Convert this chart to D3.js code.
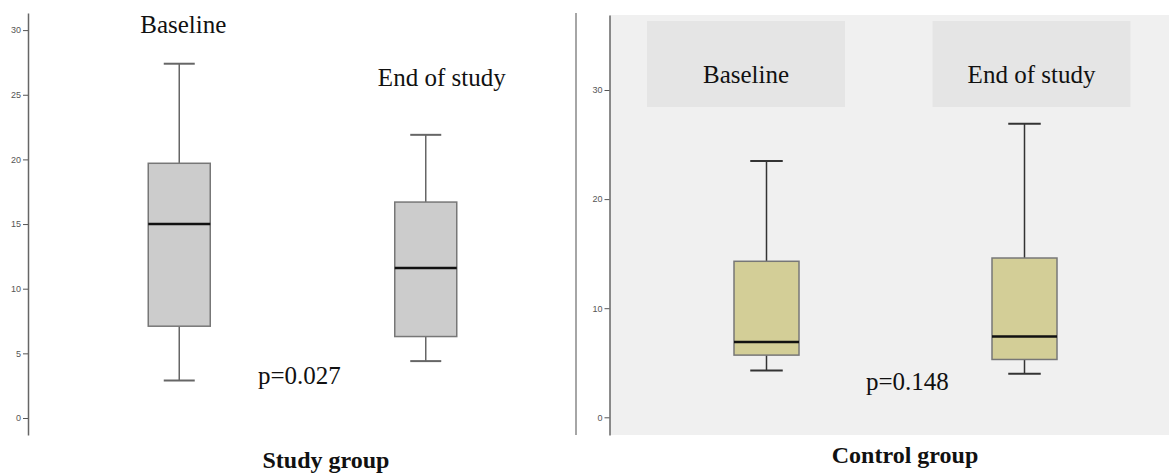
<!DOCTYPE html>
<html>
<head>
<meta charset="utf-8">
<script src="https://cdn.jsdelivr.net/npm/d3@7"></script>
<style>
  body { margin: 0; background: #fff; }
  svg { display: block; }
  .tick text { font-family: "Liberation Sans", Arial, sans-serif; font-size: 9px; fill: #555; }
  .tick line { stroke: #555; }
  .domain { stroke: #666; stroke-width: 1.5; }
  .lbl { font-family: "Liberation Serif", "Times New Roman", serif; font-size: 25px; fill: #111; }
  .ttl { font-family: "Liberation Serif", "Times New Roman", serif; font-size: 24px; font-weight: bold; fill: #111; }
</style>
</head>
<body>
<div id="chart"></div>
<script>
// Categories and box statistics (min, q1, median, q3, max)
const categories = ['Baseline', 'End of study'];
const studyStats = [
  { min: 2.9, q1: 7.1, median: 15.0, q3: 19.7, max: 27.4 },
  { min: 4.4, q1: 6.3, median: 11.6, q3: 16.7, max: 21.9 },
];
const controlStats = [
  { min: 4.3, q1: 5.7, median: 6.9, q3: 14.3, max: 23.5 },
  { min: 4.0, q1: 5.3, median: 7.4, q3: 14.6, max: 26.9 },
];
const studyTicks = [0, 5, 10, 15, 20, 25, 30];
const controlTicks = [0, 10, 20, 30];
const pValues = ['p=0.027', 'p=0.148'];
const groupTitles = ['Study group', 'Control group'];

const width = 1169;
const height = 474;

const svg = d3.select('#chart')
  .append('svg')
  .attr('width', width)
  .attr('height', height);

// Control panel background
svg.append('rect')
  .attr('x', 610).attr('y', 15)
  .attr('width', width - 610).attr('height', 420)
  .attr('fill', '#f0f0f0');

// Separator between the two plots
svg.append('line')
  .attr('x1', 576).attr('x2', 576)
  .attr('y1', 13).attr('y2', 435)
  .attr('stroke', '#888').attr('stroke-width', 1.5);

/**
 * Draw one box plot panel
 */
function drawPanel(opts) {
  const y = d3.scaleLinear().domain(opts.yDomain).range([opts.bottom, opts.top]);
  const x = d3.scaleBand().domain(categories).range(opts.xRange);

  const g = svg.append('g');

  g.append('g')
    .attr('transform', `translate(${opts.axisX},0)`)
    .call(d3.axisLeft(y).tickValues(opts.ticks).tickSize(5).tickSizeOuter(0).tickPadding(2));

  const boxW = opts.boxWidth;
  const capW = boxW / 2;

  const box = g.selectAll('.box')
    .data(opts.stats)
    .enter().append('g')
    .attr('class', 'box')
    .attr('transform', (d, i) => `translate(${x(categories[i]) + x.bandwidth() / 2},0)`);

  // whiskers
  box.append('line')
    .attr('x1', 0).attr('x2', 0)
    .attr('y1', d => y(d.max)).attr('y2', d => y(d.q3))
    .attr('stroke', opts.whisker).attr('stroke-width', 1.5);
  box.append('line')
    .attr('x1', 0).attr('x2', 0)
    .attr('y1', d => y(d.q1)).attr('y2', d => y(d.min))
    .attr('stroke', opts.whisker).attr('stroke-width', 1.5);
  box.append('line')
    .attr('x1', -capW / 2).attr('x2', capW / 2)
    .attr('y1', d => y(d.max)).attr('y2', d => y(d.max))
    .attr('stroke', opts.whisker).attr('stroke-width', 2);
  box.append('line')
    .attr('x1', -capW / 2).attr('x2', capW / 2)
    .attr('y1', d => y(d.min)).attr('y2', d => y(d.min))
    .attr('stroke', opts.whisker).attr('stroke-width', 2);

  // box
  box.append('rect')
    .attr('x', -boxW / 2)
    .attr('width', boxW)
    .attr('y', d => y(d.q3))
    .attr('height', d => y(d.q1) - y(d.q3))
    .attr('fill', opts.fill)
    .attr('stroke', '#777')
    .attr('stroke-width', 1.5);

  // median
  box.append('line')
    .attr('x1', -boxW / 2).attr('x2', boxW / 2)
    .attr('y1', d => y(d.median)).attr('y2', d => y(d.median))
    .attr('stroke', '#111').attr('stroke-width', 2.5);

  return { x, y, g };
}

// Study group
const left = drawPanel({
  stats: studyStats,
  ticks: studyTicks,
  yDomain: [(418 - 435) / 12.93, (418 - 13) / 12.93],
  top: 13, bottom: 435,
  axisX: 28,
  xRange: [56, 549],
  boxWidth: 62,
  fill: '#cccccc',
  whisker: '#666',
});

left.g.append('text').attr('class', 'lbl')
  .attr('x', left.x(categories[0]) + left.x.bandwidth() / 2 + 4).attr('y', 33)
  .attr('text-anchor', 'middle').text(categories[0]);
left.g.append('text').attr('class', 'lbl')
  .attr('x', left.x(categories[1]) + left.x.bandwidth() / 2 + 16).attr('y', 86)
  .attr('text-anchor', 'middle').text(categories[1]);
left.g.append('text').attr('class', 'lbl')
  .attr('x', 258).attr('y', 384).text(pValues[0]);
left.g.append('text').attr('class', 'ttl')
  .attr('x', 326).attr('y', 468)
  .attr('text-anchor', 'middle').text(groupTitles[0]);

// Control group
const right = drawPanel({
  stats: controlStats,
  ticks: controlTicks,
  yDomain: [(417.3 - 435) / 10.91, (417.3 - 15) / 10.91],
  top: 15, bottom: 435,
  axisX: 609.5,
  xRange: [637.5, 1153.5],
  boxWidth: 65,
  fill: '#d3ce97',
  whisker: '#333',
});

// header strips for the control panel
const header = d3.scaleBand().domain(categories).range([603.25, 1174.25]);
const headerW = 198;
right.g.selectAll('.hdr')
  .data(categories)
  .enter().append('rect')
  .attr('class', 'hdr')
  .attr('x', d => header(d) + header.bandwidth() / 2 - headerW / 2)
  .attr('y', 21)
  .attr('width', headerW)
  .attr('height', 86)
  .attr('fill', '#e5e5e5');
right.g.selectAll('.hdrText')
  .data(categories)
  .enter().append('text')
  .attr('class', 'lbl')
  .attr('x', d => header(d) + header.bandwidth() / 2)
  .attr('y', 83)
  .attr('text-anchor', 'middle')
  .text(d => d);

right.g.append('text').attr('class', 'lbl')
  .attr('x', 866).attr('y', 390).text(pValues[1]);
right.g.append('text').attr('class', 'ttl')
  .attr('x', 905).attr('y', 463)
  .attr('text-anchor', 'middle').text(groupTitles[1]);

// lift the header strips under the boxes
right.g.selectAll('.hdr').lower();
</script>
</body>
</html>
